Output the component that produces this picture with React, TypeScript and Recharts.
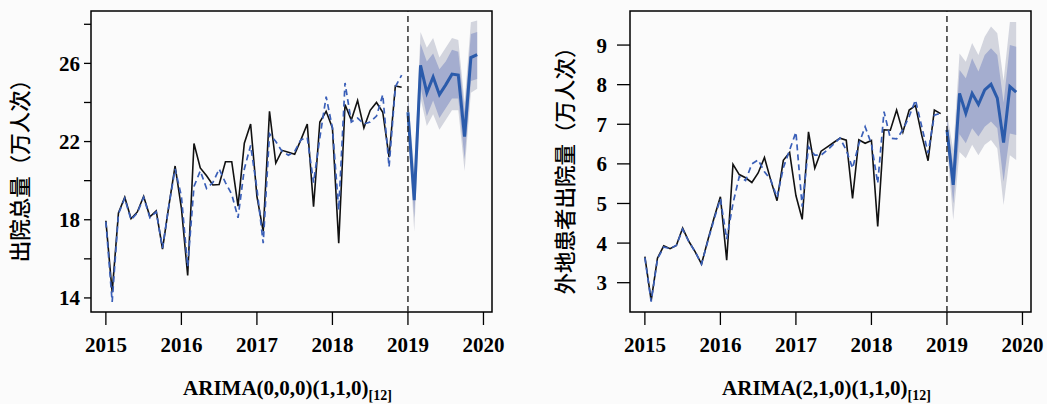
import React from 'react'
import {
  ComposedChart,
  Line,
  Area,
  XAxis,
  YAxis,
  ReferenceLine,
  ReferenceArea,
} from 'recharts'

// monthly index, Jan 2015 .. Dec 2019
const startYear = 2015
const nHist = 48
const nFc = 12
const yearTicks = [2015, 2016, 2017, 2018, 2019, 2020]

// 出院总量 (万人次)
const totalActual = [
  17.95, 14.3, 18.35, 19.15, 18.05, 18.4, 19.2, 18.15, 18.45, 16.5, 18.7, 20.75,
  18.6, 15.15, 21.9, 20.65, 20.25, 19.78, 19.8, 20.97, 20.97, 18.7, 21.92, 22.9,
  19.2, 17.4, 23.55, 20.9, 21.55, 21.45, 21.35, 22.1, 22.9, 18.67, 23.0, 23.55,
  22.7, 16.8, 23.9, 23.1, 24.1, 22.7, 23.6, 24.0, 23.5, 21.2, 24.85, 24.78,
]
const totalFitted = [
  17.9, 13.8, 18.3, 19.1, 18.0, 18.35, 19.15, 18.1, 18.4, 16.55, 18.7, 20.6,
  19.2, 15.6, 19.7, 20.5, 19.6, 19.9, 20.6, 19.9, 19.3, 18.1, 20.6, 21.8,
  19.6, 16.8, 22.4, 22.0, 21.5, 21.3, 21.5, 22.1, 22.2, 19.9, 22.2, 24.3,
  22.7, 18.5, 25.0, 23.0, 23.2, 22.9, 23.0, 23.3, 24.4, 20.7, 24.8, 25.4,
]
const totalFc = [23.5, 19.0, 25.9, 24.5, 25.3, 24.4, 24.9, 25.45, 25.4, 22.25, 26.3, 26.45]
const totalLo80 = [22.9, 18.1, 24.8, 23.3, 24.1, 23.2, 23.7, 24.2, 24.2, 21.1, 25.1, 25.2]
const totalHi80 = [24.1, 19.9, 27.0, 26.1, 26.5, 25.7, 26.1, 26.7, 26.6, 23.5, 27.5, 27.6]
const totalLo95 = [22.6, 17.4, 24.2, 22.8, 23.4, 22.6, 23.1, 23.6, 23.6, 20.5, 24.5, 24.7]
const totalHi95 = [24.4, 20.6, 27.6, 26.8, 27.3, 26.3, 26.8, 27.3, 27.2, 24.0, 28.1, 28.2]

// 外地患者出院量 (万人次)
const outActual = [
  3.66, 2.55, 3.62, 3.93, 3.86, 3.94, 4.38, 4.04, 3.78, 3.47, 4.07, 4.64,
  5.17, 3.57, 5.99, 5.73, 5.65, 5.53, 5.77, 6.16, 5.59, 5.07, 6.09, 6.29,
  5.2, 4.6, 6.81, 5.89, 6.32, 6.43, 6.54, 6.65, 6.6, 5.13, 6.61, 6.52,
  6.59, 4.42, 6.86, 6.85, 7.36, 6.8, 7.36, 7.47, 6.72, 6.08, 7.36, 7.27,
]
const outFitted = [
  3.63, 2.52, 3.6, 3.9, 3.86, 3.94, 4.35, 4.03, 3.78, 3.47, 4.05, 4.6,
  5.12, 4.1, 5.0, 5.68, 5.58, 6.0, 6.1, 5.8, 5.6, 5.15, 5.9, 6.35,
  6.8, 4.92, 6.43, 6.22, 6.22, 6.35, 6.5, 6.65, 6.35, 5.89, 6.5, 6.94,
  6.5, 5.51, 7.32, 6.65, 6.63, 6.86, 7.2, 7.61, 6.94, 6.27, 7.23, 7.28,
]
const outFc = [6.86, 5.47, 7.78, 7.28, 7.78, 7.5, 7.87, 8.01, 7.66, 6.54, 7.95, 7.81]
const outLo80 = [6.6, 5.0, 6.75, 6.52, 6.9, 6.69, 6.94, 7.07, 6.9, 5.55, 6.77, 6.73]
const outHi80 = [7.1, 5.95, 8.37, 8.16, 8.67, 8.33, 8.75, 8.92, 8.75, 7.55, 9.0, 8.96]
const outLo95 = [6.45, 4.58, 6.3, 6.14, 6.48, 6.22, 6.48, 6.6, 6.39, 4.96, 6.22, 6.1]
const outHi95 = [7.3, 6.35, 8.79, 8.58, 9.05, 8.75, 9.21, 9.47, 9.3, 8.1, 9.58, 9.58]

const buildRows = (
  actual: number[], fitted: number[], fc: number[],
  lo80: number[], hi80: number[], lo95: number[], hi95: number[],
) => {
  const rows = []
  for (let i = 0; i < nHist + nFc; i++) {
    const j = i - nHist
    rows.push({
      t: startYear + i / 12,
      actual: i < nHist ? actual[i] : null,
      fitted: i < nHist ? fitted[i] : null,
      fc: j >= 0 ? fc[j] : null,
      b80: j >= 0 ? [lo80[j], hi80[j]] : null,
      b95: j >= 0 ? [lo95[j], hi95[j]] : null,
    })
  }
  return rows
}

const totalRows = buildRows(totalActual, totalFitted, totalFc, totalLo80, totalHi80, totalLo95, totalHi95)
const outRows = buildRows(outActual, outFitted, outFc, outLo80, outHi80, outLo95, outHi95)

const xDomain: [number, number] = [2014.803, 2020.113]
const serif = 'Liberation Serif, Times New Roman, serif'
const tickStyle = { fontFamily: serif, fontSize: 21, fontWeight: 700, fill: '#000' }

interface PanelProps {
  rows: any[]
  width: number
  yAxisWidth: number
  marginRight: number
  yDomain: [number, number]
  yTicks: number[]
  yLabelled: number[]
  yTickSize: number
  yTickMargin: number
  yTitle: string
  yTitleX: number
  model: string
}

function Panel({
  rows, width, yAxisWidth, marginRight, yDomain, yTicks, yLabelled,
  yTickSize, yTickMargin, yTitle, yTitleX, model,
}: PanelProps) {
  return (
    <ComposedChart
      width={width}
      height={404}
      data={rows}
      margin={{ top: 11, right: marginRight, bottom: 0, left: 0 }}
    >
      <XAxis
        type="number"
        dataKey="t"
        domain={xDomain}
        ticks={yearTicks}
        allowDataOverflow
        axisLine={false}
        tickLine={{ stroke: '#000', strokeWidth: 1.3 }}
        tickSize={13}
        tickMargin={12}
        tick={tickStyle}
        height={92}
        label={(p: any) => {
          const vb = p.viewBox
          return (
            <text
              x={vb.x + vb.width / 2 - 4}
              y={vb.y + 83}
              textAnchor="middle"
              fontFamily={serif}
              fontWeight={700}
              fontSize={21}
              fill="#000"
            >
              <tspan>{model}</tspan>
              <tspan dy={5} fontSize={14}>[12]</tspan>
            </text>
          )
        }}
      />
      <YAxis
        type="number"
        domain={yDomain}
        ticks={yTicks}
        allowDataOverflow
        axisLine={false}
        tickLine={{ stroke: '#000', strokeWidth: 1.3 }}
        tickSize={yTickSize}
        tickMargin={yTickMargin}
        tick={tickStyle}
        tickFormatter={(v: number) => (yLabelled.includes(v) ? String(v) : '')}
        width={yAxisWidth}
        label={(p: any) => {
          const vb = p.viewBox
          const cx = vb.x + yTitleX
          const cy = vb.y + vb.height / 2 + 4
          return (
            <text
              x={cx}
              y={cy}
              transform={`rotate(-90 ${cx} ${cy})`}
              textAnchor="middle"
              dominantBaseline="central"
              fontFamily="Noto Sans CJK SC"
              fontSize={21.5}
              fontWeight={500}
              fill="#000"
            >
              {yTitle}
            </text>
          )
        }}
      />
      <Area
        type="linear"
        dataKey="b95"
        stroke="none"
        fill="#d3d5de"
        fillOpacity={1}
        isAnimationActive={false}
        dot={false}
        activeDot={false}
      />
      <Area
        type="linear"
        dataKey="b80"
        stroke="none"
        fill="#a4adcf"
        fillOpacity={1}
        isAnimationActive={false}
        dot={false}
        activeDot={false}
      />
      <Line
        type="linear"
        dataKey="actual"
        stroke="#111"
        strokeWidth={1.6}
        dot={false}
        activeDot={false}
        isAnimationActive={false}
      />
      <Line
        type="linear"
        dataKey="fitted"
        stroke="#3a5fb8"
        strokeWidth={1.7}
        strokeDasharray="6 4"
        dot={false}
        activeDot={false}
        isAnimationActive={false}
      />
      <Line
        type="linear"
        dataKey="fc"
        stroke="#2b5bab"
        strokeWidth={3}
        dot={false}
        activeDot={false}
        isAnimationActive={false}
      />
      <ReferenceLine x={2019} stroke="#222" strokeWidth={1.4} strokeDasharray="6 4" />
      <ReferenceArea
        x1={xDomain[0]}
        x2={xDomain[1]}
        y1={yDomain[0]}
        y2={yDomain[1]}
        fill="none"
        stroke="#000"
        strokeWidth={1.5}
      />
    </ComposedChart>
  )
}

export default function App() {
  return (
    <div
      style={{
        position: 'absolute',
        left: 0,
        top: 0,
        width: 1047,
        height: 404,
        display: 'flex',
        background: '#fbfbfb',
      }}
    >
      <Panel
        rows={totalRows}
        width={520}
        yAxisWidth={91}
        marginRight={28}
        yDomain={[13.28, 28.68]}
        yTicks={[14, 16, 18, 20, 22, 24, 26, 28]}
        yLabelled={[14, 18, 22, 26]}
        yTickSize={7}
        yTickMargin={4}
        yTitle="出院总量（万人次）"
        yTitleX={18}
        model="ARIMA(0,0,0)(1,1,0)"
      />
      <Panel
        rows={outRows}
        width={527}
        yAxisWidth={110}
        marginRight={16}
        yDomain={[2.26, 9.86]}
        yTicks={[3, 4, 5, 6, 7, 8, 9]}
        yLabelled={[3, 4, 5, 6, 7, 8, 9]}
        yTickSize={13}
        yTickMargin={10}
        yTitle="外地患者出院量（万人次）"
        yTitleX={43}
        model="ARIMA(2,1,0)(1,1,0)"
      />
    </div>
  )
}
